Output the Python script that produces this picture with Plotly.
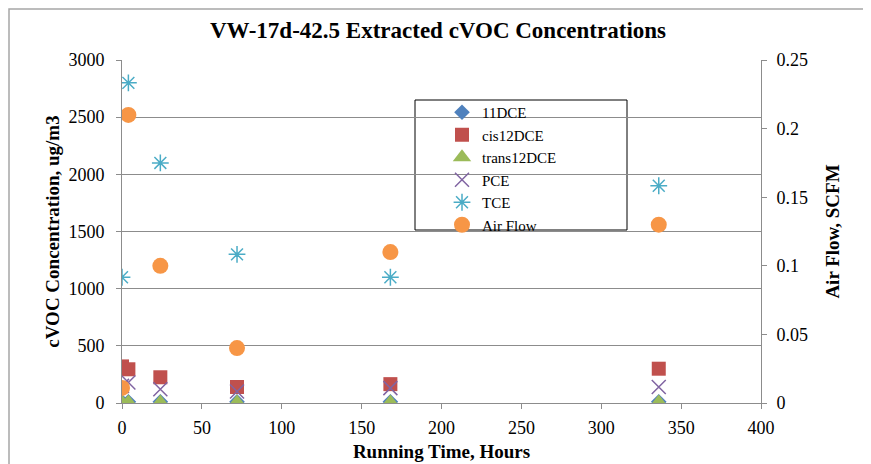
import plotly.graph_objects as go

hours = [0, 4, 24, 72, 168, 336]

dce11 = [10, 10, 10, 10, 10, 10]
cis12dce = [320, 295, 225, 140, 165, 300]
trans12dce = [5, 5, 5, 5, 5, 5]
pce = [150, 180, 120, 100, 130, 140]
tce = [1100, 2800, 2100, 1300, 1100, 1900]
air_flow = [0.011, 0.21, 0.1, 0.04, 0.11, 0.13]

serif = "Liberation Serif"

fig = go.Figure()
fig.add_trace(go.Scatter(x=hours, y=dce11, mode="markers", name="11DCE",
                         marker=dict(symbol="diamond", size=12, color="#4F81BD")))
fig.add_trace(go.Scatter(x=hours, y=cis12dce, mode="markers", name="cis12DCE",
                         marker=dict(symbol="square", size=14, color="#C0504D")))
fig.add_trace(go.Scatter(x=hours, y=trans12dce, mode="markers", name="trans12DCE",
                         marker=dict(symbol="triangle-up", size=16, color="#9BBB59")))
fig.add_trace(go.Scatter(x=hours, y=pce, mode="markers", name="PCE",
                         marker=dict(symbol="x-thin", size=14, color="#8064A2",
                                     line=dict(width=1.5, color="#8064A2"))))
fig.add_trace(go.Scatter(x=hours, y=tce, mode="markers", name="TCE",
                         marker=dict(symbol="asterisk", size=14, color="#4BACC6",
                                     line=dict(width=1.5, color="#4BACC6"))))
fig.add_trace(go.Scatter(x=hours, y=air_flow, mode="markers", name="Air Flow", yaxis="y2",
                         marker=dict(symbol="circle", size=16, color="#F79646")))

# plot area on the page: x 122..761, y 60..403 (page has 8px body margin)
def px(x):
    return (x - 122) / 639

def py(y):
    return (403 - y) / 343

# legend box like excel (wider than the entries)
fig.add_shape(type="rect", xref="paper", yref="paper",
              x0=px(415), x1=px(627), y0=py(230), y1=py(100),
              line=dict(color="black", width=1), fillcolor="white", layer="below")
# outer chart border
fig.add_shape(type="rect", xref="paper", yref="paper",
              x0=px(9), x1=px(867), y0=py(470), y1=py(9),
              line=dict(color="#a6a6a6", width=1.5))

fig.update_layout(
    width=871, height=464,
    margin=dict(l=114, r=118, t=52, b=69, autoexpand=False),
    paper_bgcolor="white", plot_bgcolor="white",
    font=dict(family=serif, size=18, color="black"),
    title=dict(text="<b>VW-17d-42.5 Extracted cVOC Concentrations</b>",
               x=430 / 871, xanchor="center", y=1 - 22 / 464, yanchor="middle",
               font=dict(family=serif, size=23)),
    showlegend=True,
    legend=dict(x=px(442), y=py(96), xanchor="left", yanchor="top",
                bgcolor="rgba(0,0,0,0)", borderwidth=0,
                font=dict(family=serif, size=15), tracegroupgap=0,
                itemwidth=30),
    xaxis=dict(range=[0, 400], dtick=50, showgrid=False, zeroline=False,
               showline=True, linecolor="#8c8c8c", ticks="outside", ticklen=5,
               tickcolor="#8c8c8c", ticklabelstandoff=3, automargin=False,
               title=dict(text="<b>Running Time, Hours</b>", standoff=8,
                          font=dict(family=serif, size=19))),
    yaxis=dict(range=[0, 3000], dtick=500, showgrid=True, gridcolor="#8c8c8c",
               zeroline=False, showline=True, linecolor="#8c8c8c", ticks="outside",
               ticklen=5, tickcolor="#8c8c8c", ticklabelstandoff=8, automargin=False,
               title=dict(text="<b>cVOC Concentration, ug/m3</b>", standoff=3,
                          font=dict(family=serif, size=19))),
    yaxis2=dict(range=[0, 0.25], dtick=0.05, overlaying="y", side="right",
                showgrid=False, zeroline=False, showline=True, linecolor="#8c8c8c",
                ticks="outside", ticklen=5, tickcolor="#8c8c8c", ticklabelstandoff=6,
                automargin=False,
                title=dict(text="<b>Air Flow, SCFM</b>", standoff=18,
                           font=dict(family=serif, size=19))),
)

fig.write_html("out.html")
